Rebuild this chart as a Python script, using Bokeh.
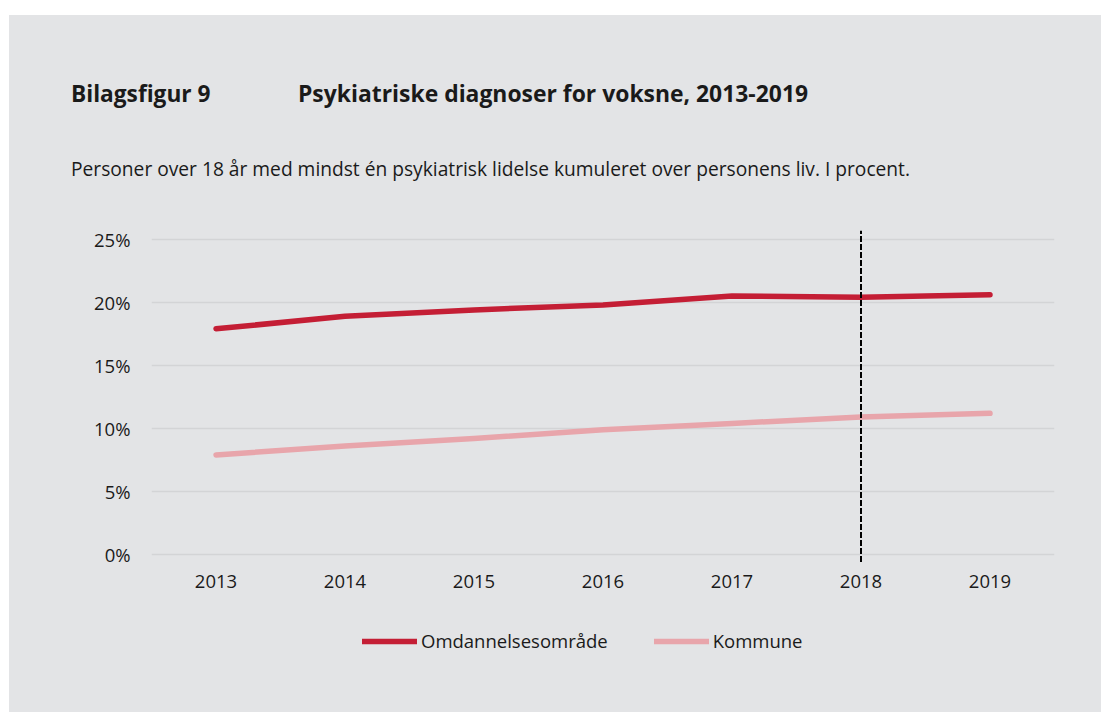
from bokeh.plotting import figure
from bokeh.models import (Range1d, FactorRange, Legend, LegendItem, FixedTicker,
                          CustomJSTickFormatter, Div, Column)
from bokeh.embed import file_html
from bokeh.resources import INLINE

years = ["2013", "2014", "2015", "2016", "2017", "2018", "2019"]
omdannelse = [17.9, 18.9, 19.4, 19.8, 20.5, 20.4, 20.6]
kommune = [7.9, 8.6, 9.2, 9.9, 10.4, 10.9, 11.2]
y_ticks = [0, 5, 10, 15, 20, 25]
marker_year = "2018"
marker_span = [-0.6, 25.7]

title_left = "Bilagsfigur 9"
title_right = "Psykiatriske diagnoser for voksne, 2013-2019"
subtitle = "Personer over 18 år med mindst én psykiatrisk lidelse kumuleret over personens liv. I procent."
series_names = ["Omdannelsesområde", "Kommune"]

BG = "#e3e4e6"
FONT = "Open Sans"
TXT = "#1a1a1a"
W = 1092
HEAD_H = 200
FIG_H = 497

head_html = (
    f'<div style="position:relative;width:{W}px;height:{HEAD_H}px;font-family:\'{FONT}\';color:{TXT};">'
    f'<span style="position:absolute;left:62px;top:65px;font-size:22.7px;font-weight:bold;line-height:28px;white-space:nowrap;">{title_left}</span>'
    f'<span style="position:absolute;left:289px;top:65px;font-size:22.9px;font-weight:bold;line-height:28px;white-space:nowrap;">{title_right}</span>'
    f'<span style="position:absolute;left:62px;top:142px;font-size:19.2px;line-height:24px;white-space:nowrap;">{subtitle}</span>'
    '</div>'
)
head = Div(text=head_html, width=W, height=HEAD_H, styles={"background-color": BG})
head.margin = 0

p = figure(
    width=W, height=FIG_H,
    x_range=FactorRange(*years, range_padding=0),
    y_range=Range1d(-9.2, 25.7),
    output_backend="svg", toolbar_location=None,
    background_fill_color=BG, border_fill_color=BG,
    min_border_left=142, min_border_right=47, min_border_top=15, min_border_bottom=42,
    outline_line_color=None,
)
p.margin = 0

p.xgrid.grid_line_color = None
p.ygrid.ticker = FixedTicker(ticks=y_ticks)
p.ygrid.grid_line_color = "#d3d4d6"
p.ygrid.grid_line_width = 1.5

p.yaxis.ticker = FixedTicker(ticks=y_ticks)
p.yaxis.formatter = CustomJSTickFormatter(code="return tick + '%';")
for ax in (p.xaxis[0], p.yaxis[0]):
    ax.axis_line_color = None
    ax.major_tick_line_color = None
    ax.minor_tick_line_color = None
    ax.major_label_text_font = FONT
    ax.major_label_text_font_size = "18.5px"
    ax.major_label_text_color = TXT
p.yaxis.major_label_standoff = 15
p.xaxis.fixed_location = 0
p.xaxis.major_label_standoff = 14

r1 = p.line(years, omdannelse, line_color="#c41e35", line_width=5.5, line_cap="round", line_join="round")
r2 = p.line(years, kommune, line_color="#e8a5ab", line_width=5.5, line_cap="round", line_join="round")

p.segment(x0=[marker_year], y0=[marker_span[0]], x1=[marker_year], y1=[marker_span[1]],
          line_color="black", line_width=2, line_dash="6 2")

legend = Legend(
    items=[LegendItem(label=series_names[0], renderers=[r1]),
           LegendItem(label=series_names[1], renderers=[r2])],
    orientation="horizontal", location=(211, 17),
    background_fill_alpha=0, border_line_alpha=0,
    padding=0, margin=0, spacing=46, label_standoff=4,
    glyph_width=55, glyph_height=20,
    label_text_font=FONT, label_text_font_size="18.5px", label_text_color=TXT,
)
p.add_layout(legend, "center")

layout = Column(head, p, spacing=0, styles={"background-color": BG})
layout.margin = (15, 0, 0, 9)
open("out.html", "w").write(file_html(layout, INLINE))
